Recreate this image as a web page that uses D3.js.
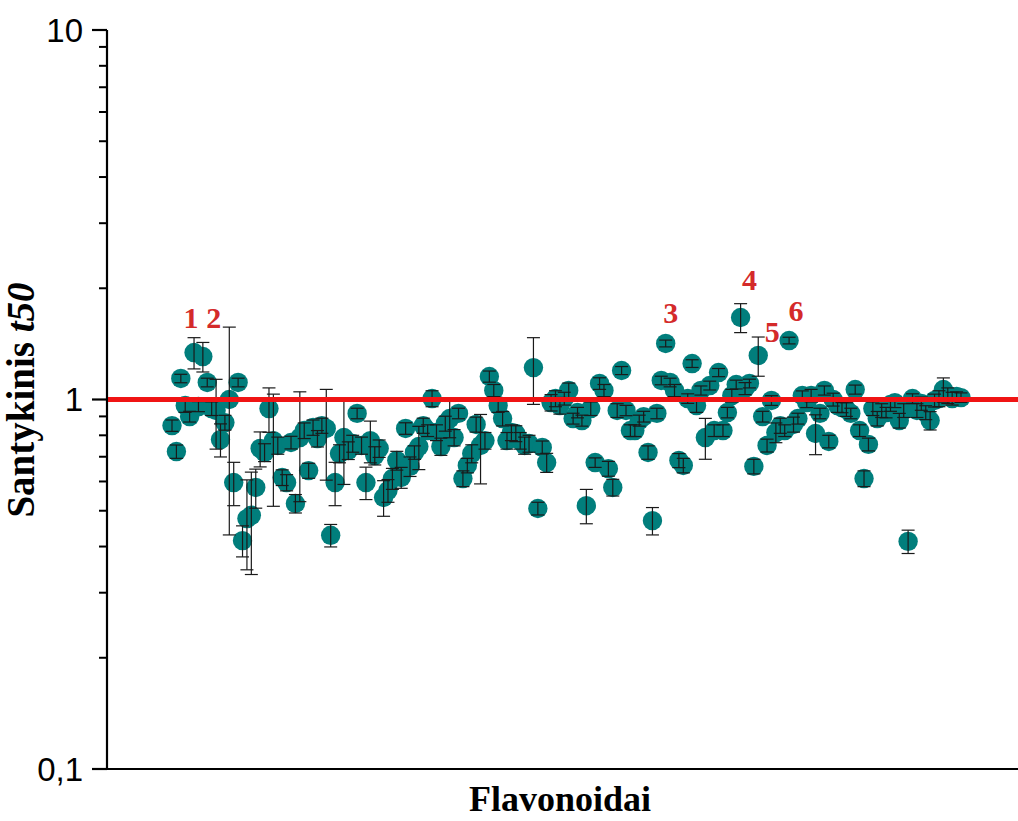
<!DOCTYPE html>
<html>
<head>
<meta charset="utf-8">
<script src="https://cdn.jsdelivr.net/npm/d3@7"></script>
<style>
  html, body { margin: 0; padding: 0; background: #fff; }
  svg { display: block; }
</style>
</head>
<body>
<svg id="chart" width="1018" height="821"></svg>
<script>
// Relative t50 for each flavonoid, in screening order
const t50 = [
  0.85, 0.723, 1.14, 0.963, 0.899, 1.34, 0.957, 1.307, 1.112, 0.945,
  0.934, 0.779, 0.866, 1.0, 0.596, 1.112, 0.415, 0.476, 0.486, 0.578,
  0.737, 0.719, 0.945, 0.774, 0.751, 0.615, 0.596, 0.765, 0.523, 0.789,
  0.824, 0.642, 0.84, 0.784, 0.85, 0.835, 0.429, 0.596, 0.714, 0.789,
  0.728, 0.76, 0.917, 0.751, 0.596, 0.774, 0.705, 0.737, 0.543, 0.567,
  0.611, 0.684, 0.615, 0.835, 0.659, 0.719, 0.746, 0.85, 0.824, 1.006,
  0.814, 0.746, 0.861, 0.888, 0.789, 0.917, 0.611, 0.663, 0.714, 0.856,
  0.751, 0.774, 1.154, 1.058, 0.963, 0.888, 0.774, 0.814, 0.809, 0.774,
  0.751, 0.76, 1.22, 0.507, 0.742, 0.675, 0.981, 1.006, 0.963, 1.006,
  1.058, 0.888, 0.922, 0.877, 0.516, 0.945, 0.675, 1.105, 1.058, 0.65,
  0.578, 0.934, 1.198, 0.934, 0.824, 0.824, 0.877, 0.899, 0.719, 0.47,
  0.917, 1.126, 1.418, 1.112, 1.058, 0.684, 0.663, 1.006, 1.251, 0.963,
  1.058, 0.789, 1.091, 0.824, 1.183, 0.824, 0.922, 1.025, 1.098, 1.667,
  1.071, 1.105, 0.659, 1.316, 0.899, 0.751, 0.994, 0.814, 0.85, 0.824,
  1.444, 0.856, 0.888, 1.025, 0.981, 1.025, 0.809, 0.917, 1.058, 0.77,
  1.0, 0.963, 0.951, 0.94, 0.917, 1.064, 0.824, 0.611, 0.756, 0.945,
  0.888, 0.934, 0.922, 0.969, 0.981, 0.877, 0.934, 0.413, 1.006, 0.934,
  0.975, 0.922, 0.877, 0.994, 1.006, 1.064, 1.025, 1.006, 1.019, 1.012
];

// Standard deviation of each t50 ratio
const t50Sd = [
  0.03, 0.03, 0.03, 0.04, 0.03, 0.13, 0.03, 0.12, 0.03, 0.04,
  0.2, 0.08, 0.04, 0.57, 0.08, 0.03, 0.04, 0.13, 0.15, 0.07,
  0.08, 0.04, 0.13, 0.26, 0.04, 0.03, 0.03, 0.03, 0.03, 0.26,
  0.04, 0.03, 0.04, 0.04, 0.04, 0.23, 0.03, 0.08, 0.04, 0.2,
  0.04, 0.04, 0.03, 0.04, 0.06, 0.1, 0.04, 0.04, 0.06, 0.04,
  0.04, 0.04, 0.04, 0.03, 0.04, 0.03, 0.1, 0.04, 0.03, 0.05,
  0.04, 0.04, 0.04, 0.1, 0.04, 0.03, 0.03, 0.03, 0.04, 0.04,
  0.16, 0.04, 0.04, 0.04, 0.04, 0.04, 0.04, 0.04, 0.04, 0.04,
  0.04, 0.04, 0.25, 0.02, 0.03, 0.04, 0.05, 0.05, 0.05, 0.04,
  0.05, 0.03, 0.03, 0.03, 0.055, 0.04, 0.02, 0.04, 0.04, 0.03,
  0.03, 0.04, 0.03, 0.03, 0.03, 0.03, 0.03, 0.03, 0.03, 0.04,
  0.03, 0.03, 0.03, 0.03, 0.04, 0.03, 0.03, 0.03, 0.03, 0.04,
  0.03, 0.1, 0.03, 0.03, 0.03, 0.03, 0.03, 0.04, 0.03, 0.15,
  0.04, 0.03, 0.03, 0.16, 0.03, 0.03, 0.03, 0.05, 0.04, 0.03,
  0.03, 0.04, 0.03, 0.03, 0.03, 0.04, 0.1, 0.03, 0.03, 0.03,
  0.04, 0.04, 0.03, 0.04, 0.03, 0.03, 0.03, 0.03, 0.03, 0.04,
  0.04, 0.04, 0.03, 0.04, 0.03, 0.04, 0.04, 0.03, 0.03, 0.04,
  0.04, 0.04, 0.05, 0.04, 0.05, 0.08, 0.05, 0.04, 0.03, 0.03
];

// Highlighted compounds: position in the list and their label
const highlightIndex = [5, 7, 112, 129, 133, 140];
const highlightLabel = ["1", "2", "3", "4", "5", "6"];

const yTickValues = [0.1, 1, 10];
const yTickLabels = ["0,1", "1", "10"];
const referenceLevel = 1;

(function draw() {
  const svg = d3.select("#chart");
  const plotLeft = 107, plotRight = 1018, plotTop = 30, plotBottom = 769;

  const x = d3.scaleLinear().domain([0, t50.length - 1]).range([172, 961]);
  const y = d3.scaleLog().domain([0.1, 10]).range([plotBottom, plotTop]);

  // Minor ticks at 2..9 within each decade
  const minor = [];
  [0.1, 1].forEach(d => { for (let k = 2; k <= 9; k++) minor.push(d * k); });

  // Y axis
  const yAxisG = svg.append("g").attr("transform", `translate(${plotLeft},0)`);
  yAxisG.append("line")
    .attr("x1", 0).attr("x2", 0).attr("y1", y(10)).attr("y2", y(0.1))
    .attr("stroke", "#000").attr("stroke-width", 2.2);
  yAxisG.selectAll(".minor").data(minor).join("line")
    .attr("x1", -8).attr("x2", 0)
    .attr("y1", d => y(d)).attr("y2", d => y(d))
    .attr("stroke", "#000").attr("stroke-width", 2);
  yAxisG.selectAll(".major").data(yTickValues).join("line")
    .attr("x1", -15).attr("x2", 0)
    .attr("y1", d => y(d)).attr("y2", d => y(d))
    .attr("stroke", "#000").attr("stroke-width", 2.2);
  yAxisG.selectAll(".lab").data(yTickValues).join("text")
    .attr("x", -24).attr("y", d => y(d))
    .attr("dy", "0.36em")
    .attr("text-anchor", "end")
    .attr("font-family", "Liberation Sans, Arial, sans-serif")
    .attr("font-size", 33)
    .attr("fill", "#000")
    .text((d, i) => yTickLabels[i]);

  // X axis baseline
  svg.append("line")
    .attr("x1", plotLeft).attr("x2", plotRight).attr("y1", plotBottom).attr("y2", plotBottom)
    .attr("stroke", "#000").attr("stroke-width", 2.2);

  // Points
  const pts = t50.map((v, i) => ({ i, v, sd: t50Sd[i] }));
  svg.append("g").selectAll("circle").data(pts).join("circle")
    .attr("cx", d => x(d.i)).attr("cy", d => y(d.v))
    .attr("r", 9.7)
    .attr("fill", "#017e7c");

  // Error bars (mean ± SD) with caps
  const eb = svg.append("g").attr("stroke", "#1a1a1a").attr("stroke-width", 1.2);
  const cap = 6.5;
  pts.forEach(d => {
    const cx = x(d.i), hi = y(d.v + d.sd), lo = y(Math.max(d.v - d.sd, 0.101));
    eb.append("line").attr("x1", cx).attr("x2", cx).attr("y1", hi).attr("y2", lo);
    eb.append("line").attr("x1", cx - cap).attr("x2", cx + cap).attr("y1", hi).attr("y2", hi);
    eb.append("line").attr("x1", cx - cap).attr("x2", cx + cap).attr("y1", lo).attr("y2", lo);
  });

  // Reference level t50 ratio = 1
  svg.append("line")
    .attr("x1", plotLeft + 1).attr("x2", plotRight)
    .attr("y1", y(referenceLevel)).attr("y2", y(referenceLevel))
    .attr("stroke", "#f01414").attr("stroke-width", 5);

  // Labels for highlighted compounds, offset from their points
  const labelOffset = {
    5: [-3, -25], 7: [11, -29], 112: [5, -20],
    129: [9, -27], 133: [14, -13], 140: [7, -20]
  };
  svg.append("g").selectAll("text").data(highlightIndex).join("text")
    .attr("x", d => x(d) + labelOffset[d][0])
    .attr("y", d => y(t50[d]) + labelOffset[d][1])
    .attr("text-anchor", "middle")
    .attr("font-family", "Liberation Serif, Times New Roman, serif")
    .attr("font-weight", "bold")
    .attr("font-size", 30)
    .attr("fill", "#d42a2a")
    .text((d, i) => highlightLabel[i]);

  // Axis titles
  svg.append("text")
    .attr("transform", "translate(34,400) rotate(-90)")
    .attr("text-anchor", "middle")
    .attr("font-family", "Liberation Serif, Times New Roman, serif")
    .attr("font-weight", "bold")
    .attr("font-size", 39)
    .attr("fill", "#000")
    .call(t => {
      t.append("tspan").text("Santykinis ");
      t.append("tspan").attr("font-style", "italic").text("t50");
    });

  svg.append("text")
    .attr("x", 560).attr("y", 811)
    .attr("text-anchor", "middle")
    .attr("font-family", "Liberation Serif, Times New Roman, serif")
    .attr("font-weight", "bold")
    .attr("font-size", 36)
    .attr("fill", "#000")
    .text("Flavonoidai");
})();
</script>
</body>
</html>
